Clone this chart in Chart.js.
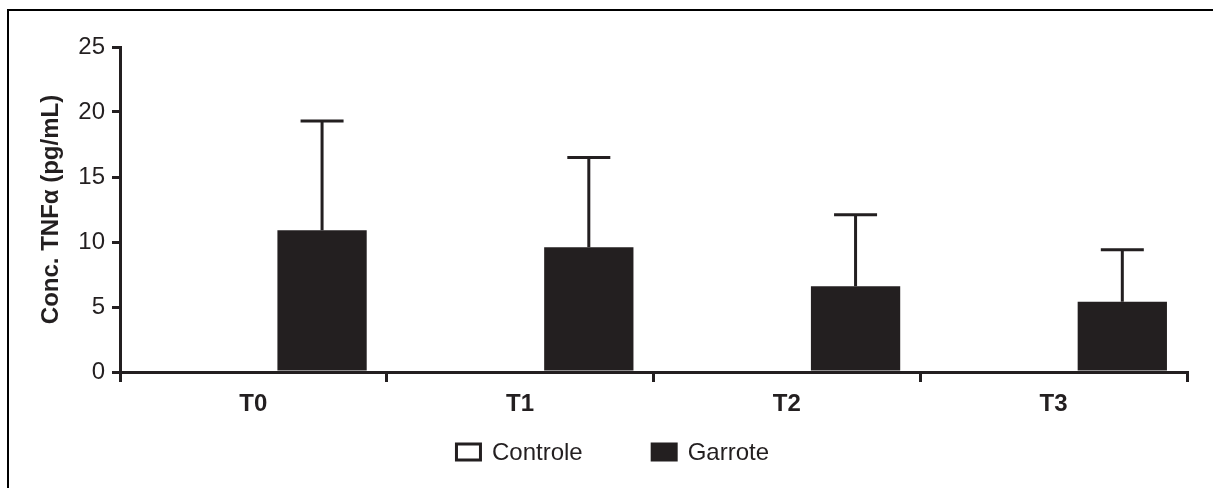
<!DOCTYPE html>
<html>
<head>
<meta charset="utf-8">
<script src="https://cdn.jsdelivr.net/npm/chart.js@4/dist/chart.umd.min.js"></script>
<style>
  body { margin: 0; background: #fff; }
  #wrap { position: relative; width: 1213px; height: 488px; overflow: hidden; }
  #frame { position: absolute; left: 7px; top: 9px; width: 1300px; height: 600px;
           border-top: 2.5px solid #000; border-left: 2.5px solid #000; pointer-events: none; }
</style>
</head>
<body>
<div id="wrap">
  <canvas id="tnfChart"></canvas>
  <div id="frame"></div>
</div>
<script>
const categories = ['T0', 'T1', 'T2', 'T3'];
const controleValues = [0, 0, 0, 0];
const garroteValues = [10.9, 9.6, 6.6, 5.4];
const garroteSD = [8.4, 6.9, 5.5, 4.0];
const yTicks = [0, 5, 10, 15, 20, 25];

const ink = '#231f20';
const fontFamily = '"Liberation Sans", Arial, sans-serif';

// upper error bars for the Garrote series
const errorBars = {
    id: 'errorBars',
    afterDatasetsDraw(chart) {
        const meta = chart.getDatasetMeta(1);
        const yScale = chart.scales.y;
        const ctx = chart.ctx;
        ctx.save();
        ctx.strokeStyle = ink;
        ctx.lineWidth = 3;
        meta.data.forEach((bar, i) => {
            const top = yScale.getPixelForValue(garroteValues[i] + garroteSD[i]);
            ctx.beginPath();
            ctx.moveTo(bar.x, bar.y);
            ctx.lineTo(bar.x, top);
            ctx.moveTo(bar.x - 21.5, top);
            ctx.lineTo(bar.x + 21.5, top);
            ctx.stroke();
        });
        ctx.restore();
    }
};

// legend under the axis, boxes as in the original
const bottomLegend = {
    id: 'bottomLegend',
    afterDraw(chart) {
        const ctx = chart.ctx;
        ctx.save();
        ctx.font = '24px ' + fontFamily;
        ctx.textBaseline = 'middle';
        const boxW = 27, boxH = 19, gap = 10, itemGap = 68;
        const items = chart.data.datasets.map(ds => ({ ds, w: boxW + gap + ctx.measureText(ds.label).width }));
        const total = items.reduce((s, it) => s + it.w, 0) + itemGap * (items.length - 1);
        let x = 612 - total / 2;
        const yc = 452;
        items.forEach(({ ds, w }) => {
            ctx.fillStyle = ds.backgroundColor;
            ctx.fillRect(x, yc - boxH / 2, boxW, boxH);
            if (ds.backgroundColor !== ink) {
                ctx.strokeStyle = ink;
                ctx.lineWidth = 3;
                ctx.strokeRect(x + 1.5, yc - boxH / 2 + 1.5, boxW - 3, boxH - 3);
            }
            ctx.fillStyle = ink;
            ctx.fillText(ds.label, x + boxW + gap, yc + 1);
            x += w + itemGap;
        });
        ctx.restore();
    }
};

new Chart(document.getElementById('tnfChart'), {
    type: 'bar',
    data: {
        labels: categories,
        datasets: [
            {
                label: 'Controle',
                data: controleValues,
                backgroundColor: '#ffffff',
                borderColor: ink,
                borderWidth: 0,
                categoryPercentage: 1.03,
                barPercentage: 0.65
            },
            {
                label: 'Garrote',
                data: garroteValues,
                backgroundColor: ink,
                borderWidth: 0,
                categoryPercentage: 1.03,
                barPercentage: 0.65
            }
        ]
    },
    options: {
        responsive: true,
        maintainAspectRatio: false,
        animation: false,
        layout: { padding: { left: 0, top: 47, right: 26, bottom: 0 } },
        plugins: {
            legend: { display: false },
            tooltip: { enabled: false }
        },
        scales: {
            x: {
                grid: { display: true, drawOnChartArea: false, color: ink, lineWidth: 3, tickLength: 10, offset: true },
                border: { color: ink, width: 3 },
                ticks: { color: ink, padding: 8, font: { family: fontFamily, size: 24, weight: 'bold' } },
                afterFit: scale => { scale.height = 116; }
            },
            y: {
                min: 0,
                max: 25,
                afterBuildTicks: scale => { scale.ticks = yTicks.map(v => ({ value: v })); },
                grid: { drawOnChartArea: false, color: ink, lineWidth: 3, tickLength: 8 },
                border: { color: ink, width: 3 },
                ticks: { color: ink, padding: 7, font: { family: fontFamily, size: 24 } },
                title: {
                    display: true,
                    text: 'Conc. TNFα (pg/mL)',
                    color: ink,
                    padding: { top: 37, bottom: 0 },
                    font: { family: fontFamily, size: 24, weight: 'bold' }
                },
                afterFit: scale => { scale.width = 120; }
            }
        }
    },
    plugins: [errorBars, bottomLegend]
});
</script>
</body>
</html>
